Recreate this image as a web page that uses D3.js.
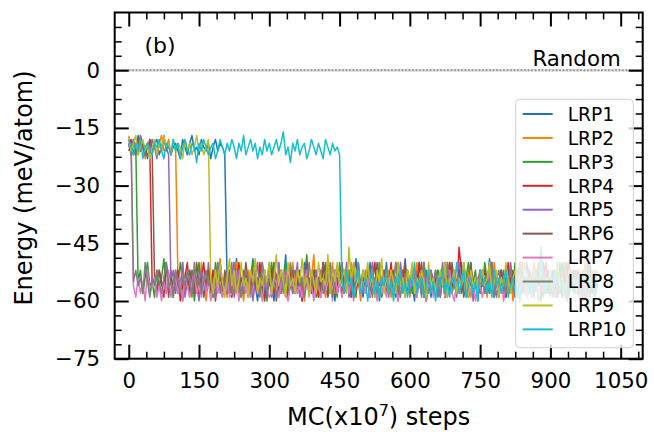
<!DOCTYPE html>
<html><head><meta charset="utf-8">
<script src="https://cdn.jsdelivr.net/npm/d3@7"></script>
<style>
body{margin:0;background:#fff}
svg{display:block}
text{font-family:"DejaVu Sans",sans-serif;fill:#000}
</style>
</head><body>
<svg id="c" width="654" height="432"></svg>
<script>
// ---------- data ----------
const steps = d3.range(0, 1001, 5); // MC (x10^7) steps, sampled every 5
const seriesNames = ["LRP1","LRP2","LRP3","LRP4","LRP5","LRP6","LRP7","LRP8","LRP9","LRP10"];
const seriesColors = ["#1f77b4","#ff7f0e","#2ca02c","#d62728","#9467bd","#8c564b","#e377c2","#7f7f7f","#bcbd22","#17becf"];
const xTickValues = [0,150,300,450,600,750,900,1050];
const yTickValues = [0,-15,-30,-45,-60,-75];
const refEnergy = 0;
const refLabel = "Random";
const panelLabel = "(b)";

const lrp1 = [-18,-20,-19,-22,-17,-21,-19,-20,-23,-18,
-21,-19,-18,-22,-20,-17,-21,-19,-22,-20,
-19,-21,-23,-18,-20,-22,-19,-17,-21,-20,
-22,-18,-20,-21,-19,-23,-20,-18,-21,-19,
-20,-22,-55,-58,-52,-56,-49,-59,-54,-56,
-52,-58,-55,-49,-56,-60,-54,-50,-58,-55,
-50,-56,-60,-54,-52,-58,-55,-48,-59,-56,
-54,-52,-58,-55,-60,-50,-56,-54,-58,-52,
-55,-59,-54,-56,-50,-58,-55,-52,-60,-54,
-56,-50,-58,-55,-52,-59,-54,-49,-56,-55,
-59,-54,-56,-50,-58,-55,-52,-60,-54,-56,
-50,-58,-55,-54,-59,-52,-56,-55,-49,-58,
-54,-56,-60,-52,-55,-58,-50,-56,-54,-59,
-55,-52,-58,-54,-56,-50,-59,-55,-52,-56,
-58,-54,-50,-59,-55,-56,-52,-58,-54,-60,
-52,-56,-54,-58,-49,-55,-59,-54,-56,-52,
-56,-59,-52,-55,-58,-50,-56,-60,-54,-55,
-50,-55,-58,-54,-56,-52,-59,-55,-58,-54,
-58,-52,-55,-59,-50,-56,-54,-58,-55,-52,
-55,-58,-54,-56,-60,-52,-55,-50,-58,-56,
-54];
const lrp2 = [-17,-21,-19,-20,-22,-18,-20,-23,-19,-21,
-18,-20,-22,-19,-17,-21,-20,-18,-22,-19,
-20,-54,-58,-50,-56,-55,-59,-52,-56,-54,
-58,-50,-55,-60,-54,-56,-52,-58,-55,-49,
-56,-54,-59,-52,-55,-58,-50,-56,-54,-60,
-55,-52,-56,-59,-54,-50,-58,-55,-52,-56,
-54,-58,-50,-55,-59,-54,-56,-52,-58,-55,
-50,-56,-54,-58,-55,-60,-52,-56,-54,-48,
-58,-55,-52,-56,-59,-54,-55,-50,-58,-56,
-54,-59,-55,-52,-56,-50,-58,-54,-55,-60,
-52,-56,-54,-58,-55,-50,-59,-54,-56,-55,
-56,-52,-59,-55,-50,-58,-54,-56,-52,-55,
-59,-54,-56,-50,-55,-58,-52,-60,-55,-54,
-58,-55,-52,-56,-54,-59,-50,-55,-58,-54,
-55,-50,-58,-54,-56,-52,-59,-56,-54,-58,
-52,-56,-55,-59,-54,-58,-50,-55,-56,-52,
-56,-54,-58,-52,-60,-55,-54,-56,-50,-58,
-54,-58,-55,-50,-56,-54,-59,-52,-55,-56,
-59,-55,-52,-58,-54,-56,-50,-55,-58,-54,
-55,-52,-56,-54,-59,-50,-56,-55,-52,-58,
-55];
const lrp3 = [-19,-21,-18,-20,-55,-52,-58,-54,-50,-56,
-55,-59,-52,-56,-54,-49,-58,-55,-52,-59,
-54,-56,-50,-55,-58,-54,-56,-52,-60,-55,
-50,-58,-54,-56,-52,-55,-59,-50,-56,-54,
-58,-55,-52,-58,-55,-50,-56,-54,-59,-52,
-55,-58,-54,-50,-56,-55,-52,-58,-54,-60,
-55,-50,-56,-54,-58,-52,-55,-50,-59,-56,
-54,-58,-55,-52,-56,-54,-48,-58,-55,-52,
-59,-54,-56,-50,-55,-58,-54,-52,-56,-59,
-50,-55,-58,-54,-56,-52,-55,-59,-50,-56,
-54,-58,-55,-52,-58,-54,-56,-50,-59,-55,
-52,-56,-54,-58,-55,-50,-56,-54,-59,-52,
-55,-58,-54,-56,-50,-55,-59,-52,-56,-54,
-58,-55,-52,-56,-54,-59,-55,-50,-58,-54,
-56,-52,-55,-58,-54,-50,-56,-55,-52,-59,
-54,-56,-50,-55,-58,-52,-56,-54,-59,-55,
-52,-58,-55,-54,-56,-50,-59,-55,-52,-56,
-54,-58,-55,-52,-56,-54,-60,-50,-55,-58,
-52,-56,-54,-59,-55,-50,-58,-54,-56,-55,
-58,-52,-55,-56,-54,-59,-50,-56,-55,-52,
-56];
const lrp4 = [-20,-18,-22,-19,-21,-17,-20,-22,-19,-21,
-56,-54,-58,-52,-55,-59,-50,-56,-54,-58,
-55,-52,-60,-56,-54,-50,-58,-55,-52,-56,
-59,-54,-50,-58,-55,-56,-52,-60,-54,-50,
-58,-55,-56,-52,-59,-54,-56,-50,-55,-58,
-52,-59,-54,-56,-55,-58,-50,-56,-60,-54,
-56,-52,-58,-55,-50,-56,-54,-59,-55,-52,
-58,-54,-56,-52,-60,-55,-50,-56,-54,-58,
-52,-59,-55,-50,-56,-54,-58,-55,-52,-56,
-55,-58,-52,-56,-54,-59,-50,-56,-55,-58,
-54,-56,-52,-59,-55,-50,-58,-54,-56,-52,
-58,-55,-50,-56,-54,-59,-55,-52,-58,-54,
-56,-52,-55,-58,-50,-56,-54,-60,-55,-52,
-55,-58,-54,-56,-52,-59,-55,-50,-56,-54,
-58,-46,-52,-56,-54,-59,-50,-58,-56,-55,
-52,-56,-54,-58,-55,-50,-59,-54,-56,-52,
-58,-55,-50,-56,-54,-59,-55,-52,-58,-54,
-56,-54,-58,-52,-55,-60,-54,-56,-50,-55,
-54,-58,-55,-52,-56,-59,-54,-50,-58,-55,
-52,-56,-54,-59,-55,-50,-58,-55,-54,-56,
-56];
const lrp5 = [-19,-22,-18,-20,-21,-17,-20,-22,-19,-21,
-18,-20,-23,-19,-21,-18,-20,-22,-55,-52,
-58,-54,-56,-50,-59,-55,-52,-58,-54,-56,
-60,-52,-55,-58,-50,-56,-54,-59,-55,-52,
-56,-54,-58,-55,-50,-59,-56,-52,-55,-58,
-54,-56,-52,-60,-55,-50,-58,-54,-56,-55,
-52,-59,-54,-56,-50,-58,-55,-52,-56,-54,
-58,-55,-50,-59,-56,-52,-55,-58,-54,-56,
-52,-55,-59,-54,-58,-50,-56,-55,-52,-58,
-55,-54,-56,-50,-59,-55,-52,-56,-54,-55,
-58,-52,-56,-54,-50,-59,-55,-58,-54,-56,
-55,-59,-52,-56,-54,-58,-50,-55,-56,-54,
-58,-55,-52,-59,-54,-56,-50,-58,-55,-52,
-56,-54,-59,-55,-50,-58,-54,-56,-52,-55,
-59,-50,-56,-54,-58,-55,-52,-60,-55,-54,
-56,-52,-58,-55,-50,-56,-54,-59,-55,-52,
-58,-54,-56,-50,-55,-59,-52,-56,-54,-58,
-55,-52,-59,-54,-56,-50,-58,-55,-52,-56,
-54,-58,-55,-50,-56,-59,-54,-55,-58,-52,
-56,-54,-58,-55,-52,-59,-50,-56,-55,-54,
-56];
const lrp6 = [-21,-19,-22,-20,-18,-21,-19,-22,-20,-18,
-21,-54,-58,-52,-56,-55,-50,-59,-54,-56,
-52,-58,-55,-60,-54,-56,-52,-55,-58,-50,
-56,-54,-59,-55,-52,-58,-54,-56,-50,-55,
-59,-52,-56,-54,-58,-55,-52,-58,-54,-56,
-50,-55,-59,-52,-56,-54,-58,-55,-52,-58,
-54,-56,-50,-60,-55,-52,-56,-54,-58,-55,
-52,-58,-54,-56,-59,-54,-50,-58,-55,-52,
-56,-54,-58,-50,-55,-59,-56,-54,-52,-58,
-55,-50,-56,-54,-52,-59,-55,-58,-54,-56,
-52,-56,-55,-59,-54,-58,-50,-56,-55,-52,
-54,-58,-56,-52,-55,-60,-54,-56,-50,-58,
-55,-52,-58,-54,-56,-50,-59,-55,-52,-56,
-58,-54,-55,-59,-52,-56,-54,-58,-50,-55,
-56,-52,-58,-55,-54,-59,-50,-56,-55,-54,
-58,-55,-52,-56,-54,-50,-59,-55,-58,-52,
-55,-59,-54,-56,-52,-58,-55,-50,-56,-54,
-58,-52,-55,-59,-54,-56,-50,-58,-55,-52,
-56,-54,-58,-55,-52,-59,-54,-56,-50,-55,
-58,-55,-52,-56,-54,-59,-55,-52,-58,-54,
-55];
const lrp7 = [-18,-20,-56,-59,-54,-58,-55,-60,-52,-58,
-56,-54,-59,-56,-60,-55,-58,-52,-59,-56,
-54,-58,-55,-60,-54,-56,-59,-55,-52,-58,
-56,-59,-54,-58,-55,-60,-56,-52,-58,-55,
-59,-56,-54,-59,-58,-55,-52,-60,-56,-54,
-58,-55,-59,-56,-52,-58,-55,-60,-54,-56,
-59,-58,-54,-55,-59,-56,-52,-58,-60,-55,
-56,-54,-58,-56,-59,-55,-52,-58,-56,-60,
-54,-56,-59,-55,-58,-54,-56,-60,-52,-58,
-55,-59,-56,-54,-58,-55,-60,-56,-52,-58,
-55,-58,-54,-59,-56,-55,-60,-52,-58,-56,
-59,-54,-56,-58,-55,-60,-56,-54,-59,-55,
-58,-52,-56,-59,-55,-58,-54,-60,-56,-55,
-59,-56,-54,-58,-55,-59,-56,-52,-58,-60,
-55,-58,-56,-54,-59,-55,-58,-56,-60,-54,
-56,-59,-55,-58,-52,-56,-59,-55,-58,-54,
-60,-56,-54,-58,-55,-59,-56,-52,-58,-55,
-59,-55,-58,-54,-56,-60,-55,-58,-56,-54,
-58,-55,-59,-56,-54,-58,-55,-60,-56,-52,
-58,-55,-59,-56,-54,-58,-60,-55,-56,-59,
-56];
const lrp8 = [-20,-19,-55,-52,-56,-54,-58,-50,-55,-59,
-54,-56,-52,-55,-58,-54,-50,-56,-55,-59,
-52,-55,-58,-54,-56,-52,-55,-59,-50,-56,
-54,-58,-55,-52,-56,-54,-59,-55,-50,-58,
-54,-56,-52,-55,-58,-50,-56,-54,-59,-55,
-52,-54,-58,-55,-52,-56,-59,-50,-55,-58,
-54,-56,-54,-59,-55,-52,-58,-54,-56,-50,
-55,-58,-52,-56,-54,-59,-55,-50,-56,-54,
-58,-55,-52,-58,-56,-54,-50,-59,-55,-52,
-56,-54,-58,-55,-52,-56,-59,-54,-50,-58,
-55,-56,-52,-55,-59,-54,-58,-50,-56,-55,
-52,-58,-54,-56,-50,-55,-59,-54,-56,-52,
-58,-55,-52,-56,-54,-59,-50,-55,-58,-54,
-56,-52,-55,-59,-54,-58,-50,-56,-55,-52,
-58,-54,-56,-50,-55,-59,-52,-56,-54,-58,
-55,-52,-58,-54,-56,-50,-59,-55,-52,-56,
-54,-58,-55,-52,-56,-59,-54,-50,-58,-55,
-56,-52,-55,-58,-54,-50,-56,-59,-55,-54,
-58,-55,-52,-56,-54,-58,-50,-55,-59,-54,
-56,-52,-58,-55,-54,-56,-50,-59,-55,-58,
-56];
const lrp9 = [-18,-21,-19,-17,-22,-20,-18,-21,-19,-23,
-20,-18,-22,-19,-21,-17,-20,-19,-22,-18,
-21,-19,-20,-23,-18,-21,-19,-22,-20,-17,
-21,-19,-22,-20,-18,-54,-58,-52,-56,-50,
-55,-59,-54,-49,-56,-52,-58,-55,-50,-56,
-54,-59,-52,-55,-49,-58,-54,-56,-52,-55,
-50,-58,-54,-48,-56,-52,-55,-59,-50,-56,
-54,-58,-52,-55,-49,-56,-54,-59,-52,-55,
-58,-50,-55,-54,-56,-48,-58,-52,-55,-50,
-56,-54,-52,-58,-46,-55,-50,-56,-54,-58,
-52,-55,-50,-56,-54,-59,-52,-55,-49,-58,
-54,-56,-52,-55,-58,-50,-56,-54,-59,-52,
-55,-50,-58,-54,-56,-52,-55,-59,-50,-56,
-54,-58,-55,-52,-56,-50,-59,-54,-55,-52,
-58,-54,-56,-50,-55,-59,-52,-56,-54,-58,
-55,-52,-56,-54,-50,-58,-55,-52,-59,-54,
-56,-50,-55,-58,-54,-52,-56,-59,-55,-50,
-58,-54,-56,-52,-55,-59,-50,-56,-54,-55,
-52,-58,-55,-50,-56,-54,-59,-55,-52,-56,
-54,-58,-55,-52,-56,-50,-59,-54,-56,-55,
-52];
const lrp10 = [-18,-20,-22,-19,-21,-18,-23,-20,-19,-21,
-22,-19,-20,-18,-21,-23,-19,-20,-22,-18,
-21,-19,-23,-20,-18,-21,-22,-19,-20,-24,
-19,-21,-18,-20,-22,-20,-19,-23,-21,-18,
-20,-22,-19,-21,-18,-20,-23,-19,-21,-17,
-22,-20,-18,-21,-19,-23,-20,-22,-18,-21,
-19,-22,-20,-18,-21,-19,-16,-22,-20,-24,
-19,-21,-18,-22,-20,-19,-23,-21,-18,-20,
-22,-19,-21,-23,-18,-20,-22,-19,-21,-20,
-22,-55,-58,-52,-56,-54,-59,-55,-52,-58,
-56,-54,-60,-55,-52,-58,-55,-59,-54,-56,
-52,-58,-55,-60,-54,-56,-52,-58,-55,-59,
-54,-56,-50,-58,-55,-54,-59,-56,-52,-58,
-55,-60,-54,-56,-52,-58,-55,-59,-54,-56,
-50,-58,-55,-52,-59,-56,-54,-58,-55,-60,
-52,-56,-54,-58,-55,-59,-52,-56,-54,-58,
-55,-52,-59,-56,-54,-58,-55,-60,-52,-56,
-54,-58,-55,-59,-52,-56,-46,-55,-58,-54,
-56,-59,-52,-55,-58,-54,-56,-60,-55,-52,
-58,-55,-54,-59,-56,-52,-58,-55,-54,-59,
-56];
const seriesValues = [lrp1,lrp2,lrp3,lrp4,lrp5,lrp6,lrp7,lrp8,lrp9,lrp10];

// ---------- layout ----------
const svg = d3.select("#c");
const L = 114.7, R = 642.7, T = 12.5, B = 358.7;
const x = d3.scaleLinear().domain([-30, 1097]).range([L, R]);
const y = d3.scaleLinear().domain([-75, 15]).range([B, T]);

svg.append("defs").append("clipPath").attr("id","clip")
  .append("rect").attr("x",L).attr("y",T).attr("width",R-L).attr("height",B-T);

// reference line (dotted)
svg.append("line")
  .attr("x1",L).attr("x2",R).attr("y1",y(refEnergy)).attr("y2",y(refEnergy))
  .attr("stroke","#dcdcdc").attr("stroke-width",2.6);
svg.append("line")
  .attr("x1",L).attr("x2",R).attr("y1",y(refEnergy)).attr("y2",y(refEnergy))
  .attr("stroke","#969696").attr("stroke-width",2)
  .attr("stroke-dasharray","1.6,1.9");

// series
const line = d3.line().x((d,i)=>x(steps[i])).y(d=>y(d));
const gLines = svg.append("g").attr("clip-path","url(#clip)");
seriesValues.forEach((vals,k)=>{
  gLines.append("path").datum(vals).attr("d",line)
    .attr("fill","none").attr("stroke",seriesColors[k]).attr("stroke-width",1.5)
    .attr("stroke-linejoin","round");
});

// texts
svg.append("text").attr("x",x(1050)).attr("y",66).attr("text-anchor","end")
  .style("font-size","21.3px").text(refLabel);
svg.append("text").attr("x",144.5).attr("y",53)
  .style("font-size","22px").text(panelLabel);

// axes
const minorX = d3.range(0, 1097, 37.5).filter(v=>!xTickValues.includes(v));
const minorY = d3.range(-75, 15.01, 3.75).filter(v=>!yTickValues.includes(v) && v!==15);
function styleAxis(g){ g.select(".domain").remove(); g.selectAll("line").attr("stroke","#000"); }
const MAJ = 14, MIN = 7;
svg.append("g").attr("transform",`translate(0,${B})`)
  .call(d3.axisBottom(x).tickValues(xTickValues).tickSize(-MAJ).tickPadding(14.5).tickFormat(d3.format("d")))
  .call(styleAxis).call(g=>g.selectAll("text").style("font-size","21.3px").attr("font-family","DejaVu Sans"))
  .call(g=>g.selectAll("line").attr("stroke-width",2));
svg.append("g").attr("transform",`translate(0,${B})`)
  .call(d3.axisBottom(x).tickValues(minorX).tickSize(-MIN).tickFormat(""))
  .call(styleAxis).call(g=>g.selectAll("line").attr("stroke-width",1.5));
svg.append("g").attr("transform",`translate(0,${T})`)
  .call(d3.axisTop(x).tickValues(xTickValues).tickSize(-MAJ).tickFormat(""))
  .call(styleAxis).call(g=>g.selectAll("line").attr("stroke-width",2));
svg.append("g").attr("transform",`translate(0,${T})`)
  .call(d3.axisTop(x).tickValues(minorX).tickSize(-MIN).tickFormat(""))
  .call(styleAxis).call(g=>g.selectAll("line").attr("stroke-width",1.5));
svg.append("g").attr("transform",`translate(${L},0)`)
  .call(d3.axisLeft(y).tickValues(yTickValues).tickSize(-MAJ).tickPadding(14.7)
    .tickFormat(d=> d<0 ? "\u2212"+Math.abs(d) : String(d)))
  .call(styleAxis).call(g=>g.selectAll("text").style("font-size","21.3px").attr("font-family","DejaVu Sans"))
  .call(g=>g.selectAll("line").attr("stroke-width",2));
svg.append("g").attr("transform",`translate(${L},0)`)
  .call(d3.axisLeft(y).tickValues(minorY).tickSize(-MIN).tickFormat(""))
  .call(styleAxis).call(g=>g.selectAll("line").attr("stroke-width",1.5));
svg.append("g").attr("transform",`translate(${R},0)`)
  .call(d3.axisRight(y).tickValues(yTickValues).tickSize(-MAJ).tickFormat(""))
  .call(styleAxis).call(g=>g.selectAll("line").attr("stroke-width",2));
svg.append("g").attr("transform",`translate(${R},0)`)
  .call(d3.axisRight(y).tickValues(minorY).tickSize(-MIN).tickFormat(""))
  .call(styleAxis).call(g=>g.selectAll("line").attr("stroke-width",1.5));

// frame
svg.append("rect").attr("x",L).attr("y",T).attr("width",R-L).attr("height",B-T)
  .attr("fill","none").attr("stroke","#000").attr("stroke-width",2);

// axis labels
const xl = svg.append("text").attr("x",(L+R)/2).attr("y",425).attr("text-anchor","middle").style("font-size","24px");
xl.append("tspan").text("MC(x10");
xl.append("tspan").attr("dy",-9).style("font-size","16px").text("7");
xl.append("tspan").attr("dy",9).text(") steps");
svg.append("text").attr("transform",`translate(32,188) rotate(-90)`).attr("text-anchor","middle")
  .style("font-size","24px").text("Energy (meV/atom)");

// legend
const lg = svg.append("g");
lg.append("rect").attr("x",515.7).attr("y",99.3).attr("width",117.6).attr("height",248.4)
  .attr("rx",4).attr("fill","#fff").attr("fill-opacity",0.8)
  .attr("stroke","#d0d0d0").attr("stroke-width",1);
seriesNames.forEach((n,k)=>{
  const cy = 114 + k*23.93;
  lg.append("line").attr("x1",522.7).attr("x2",552.7).attr("y1",cy).attr("y2",cy)
    .attr("stroke",seriesColors[k]).attr("stroke-width",2);
  lg.append("text").attr("x",567.7).attr("y",cy).attr("dy","0.36em").style("font-size","18.7px").text(n);
});
</script>
</body></html>
